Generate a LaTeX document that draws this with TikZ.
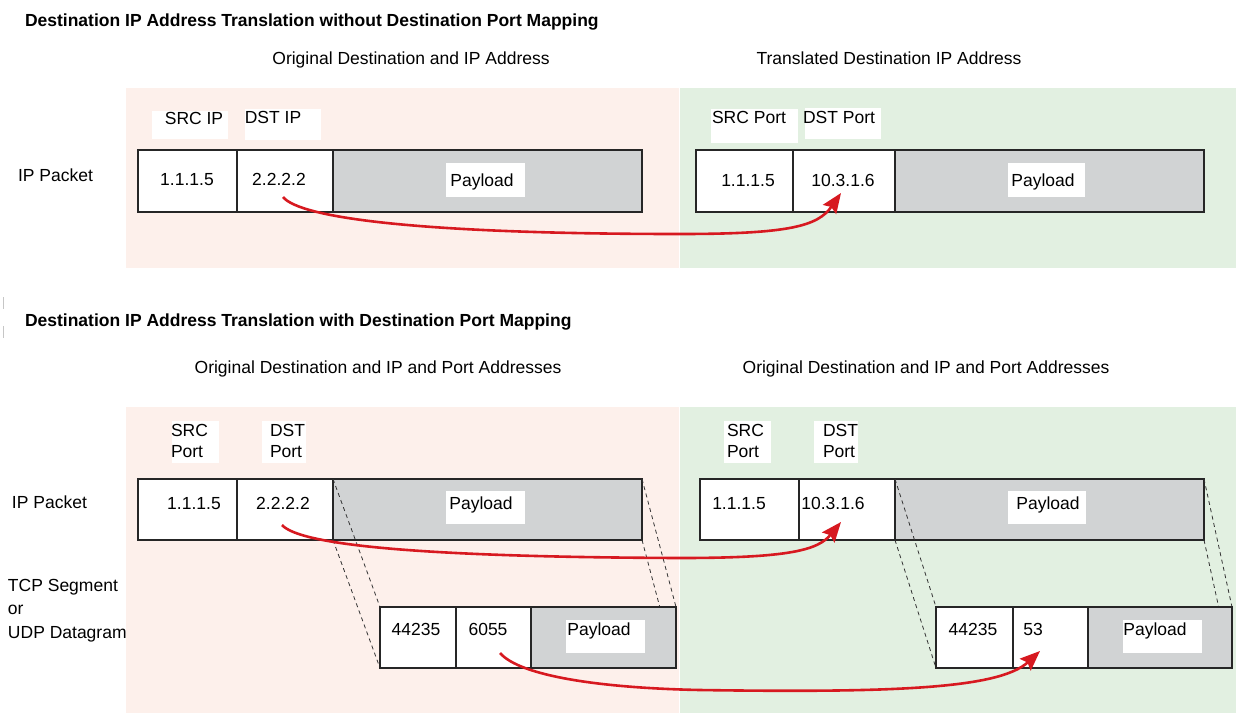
\documentclass[tikz,border=0pt]{standalone}
\usepackage{fontspec}
\setmainfont{Liberation Sans}
\usetikzlibrary{arrows.meta}
\definecolor{pinkbg}{HTML}{FDF0EB}
\definecolor{greenbg}{HTML}{E2F0E1}
\definecolor{paygray}{HTML}{D1D3D4}
\definecolor{arrowred}{HTML}{D71920}
\definecolor{edgecol}{HTML}{262626}
\newcommand\rectnode[6]{\node[#2, minimum width={(#5-#3)*1pt}, minimum height={(#6-#4)*1pt}] (#1) at ({(#3+#5)/2},{(#4+#6)/2}) {};}
\begin{document}
\begin{tikzpicture}[x=1pt,y=-1pt,
 every node/.style={inner sep=0pt, outer sep=0pt, font=\fontsize{17.5}{21}\selectfont},
 bgpink/.style={fill=pinkbg},
 bggreen/.style={fill=greenbg},
 cell/.style={draw=edgecol, fill=white, line width=1.3pt},
 thickcell/.style={draw=black!85, fill=white, line width=2.6pt},
 paycell/.style={draw=edgecol, fill=paygray, line width=1.3pt},
 lbox/.style={fill=white},
 txt/.style={anchor=base, yshift=-6.3pt},
 wtxt/.style={anchor=base west, yshift=-6.3pt},
 title/.style={anchor=base west, yshift=-6.3pt, font=\fontsize{17.5}{21}\selectfont\bfseries},
 guide/.style={draw=black!80, dash pattern=on 4pt off 3.5pt, line width=0.8pt},
 redarrow/.style={draw=arrowred, line width=2.6pt, -{Stealth[length=20pt,width=16pt,inset=3pt]}},
]
\useasboundingbox (0,0) rectangle (1236,713);
\fill[white] (0,0) rectangle (1236,713);

% ---------------- Part 1 ----------------
\node[title] (title1) at (25,20) {Destination IP Address Translation without Destination Port Mapping};
\node[txt] (hdr1l) at (411,58) {Original Destination and IP Address};
\node[txt] (hdr1r) at (889,58) {Translated Destination IP Address};

\rectnode{bg1l}{bgpink}{126}{88}{679}{268}
\rectnode{bg1r}{bggreen}{680}{88}{1236}{268}

\node[wtxt] (ippk1) at (18,175) {IP Packet};

% labels left
\rectnode{lb1a}{lbox}{152}{111}{228}{139}
\node[txt] (lt1a) at (194,118) {SRC IP};
\rectnode{lb1b}{lbox}{245}{109}{321}{140}
\node[txt] (lt1b) at (273,117) {DST IP};

% packet left
\rectnode{c1a}{cell}{138}{150}{237}{212}
\rectnode{c1p}{paycell}{333}{150}{642}{212}
\rectnode{c1b}{thickcell}{237}{150}{333}{212}
\node[txt] (t1a) at (187,179) {1.1.1.5};
\node[txt] (t1b) at (279,179) {2.2.2.2};
\rectnode{pl1}{lbox}{446}{163}{525}{197}
\node[txt] (tp1) at (482,180) {Payload};

% labels right
\rectnode{lb2a}{lbox}{711}{109}{798}{143}
\node[txt] (lt2a) at (749,117) {SRC Port};
\rectnode{lb2b}{lbox}{805}{108}{881}{139}
\node[txt] (lt2b) at (839,117) {DST Port};

% packet right
\rectnode{c2p}{paycell}{895}{150}{1204}{212}
\rectnode{c2a}{thickcell}{696}{150}{793}{212}
\rectnode{c2b}{thickcell}{793}{150}{895}{212}
\node[txt] (t2a) at (748,180) {1.1.1.5};
\node[txt] (t2b) at (843,180) {10.3.1.6};
\rectnode{pl2}{lbox}{1008}{163}{1085}{197}
\node[txt] (tp2) at (1043,180) {Payload};

% ---------------- Part 2 ----------------
\draw[gray!45, line width=0.8pt] (3,297) -- (3,309);
\draw[gray!45, line width=0.8pt] (3,326) -- (3,338);
\node[title] (title2) at (25,320) {Destination IP Address Translation with Destination Port Mapping};
\node[txt] (hdr2l) at (378,367) {Original Destination and IP and Port Addresses};
\node[txt] (hdr2r) at (926,367) {Original Destination and IP and Port Addresses};

\rectnode{bg2l}{bgpink}{126}{407}{679}{713}
\rectnode{bg2r}{bggreen}{680}{407}{1236}{713}

\node[wtxt] (ippk2) at (12,502) {IP Packet};
\node[anchor=west, align=left, font=\fontsize{17.5}{23.5}\selectfont] (tcpl) at (8,610.5) {TCP Segment\\or\\UDP Datagram};

% labels left
\rectnode{lb3a}{lbox}{172}{421}{219}{463}
\node[anchor=west, align=left] (lt3a) at (171,440.5) {SRC\\Port};
\rectnode{lb3b}{lbox}{262}{421}{306}{463}
\node[anchor=west, align=left] (lt3b) at (270,440.5) {DST\\Port};

% labels right
\rectnode{lb4a}{lbox}{724}{421}{771}{463}
\node[anchor=west, align=left] (lt4a) at (727,440.5) {SRC\\Port};
\rectnode{lb4b}{lbox}{814}{421}{858}{463}
\node[anchor=west, align=left] (lt4b) at (823,440.5) {DST\\Port};

% IP packets
\rectnode{c3a}{cell}{138}{479}{237}{540}
\rectnode{c3b}{cell}{237}{479}{333}{540}
\rectnode{c3p}{paycell}{333}{479}{642}{540}
\rectnode{c4a}{cell}{700}{479}{799}{540}
\rectnode{c4b}{cell}{799}{479}{895}{540}
\rectnode{c4p}{paycell}{895}{479}{1204}{540}

% TCP corner coordinates (boxes drawn after dashed guides)
\coordinate (d3tl) at (380,607);
\coordinate (d3bl) at (380,668);
\coordinate (d3tr) at (676,607);
\coordinate (d3br) at (676,668);
\coordinate (d4tl) at (936,607);
\coordinate (d4bl) at (936,668);
\coordinate (d4tr) at (1232,607);
\coordinate (d4br) at (1232,668);

\draw[guide] (c3p.north west) -- (d3tl);
\draw[guide] (c3p.south west) -- (d3bl);
\draw[guide] (c3p.north east) -- (d3tr);
\draw[guide] (c3p.south east) -- (d3br);
\draw[guide] (c4p.north west) -- (d4tl);
\draw[guide] (c4p.south west) -- (d4bl);
\draw[guide] (c4p.north east) -- (d4tr);
\draw[guide] (c4p.south east) -- (d4br);

\rectnode{s3a}{cell}{380}{607}{456}{668}
\rectnode{s3b}{cell}{456}{607}{531}{668}
\rectnode{s3p}{paycell}{531}{607}{676}{668}
\rectnode{s4a}{cell}{936}{607}{1013}{668}
\rectnode{s4b}{cell}{1013}{607}{1088}{668}
\rectnode{s4p}{paycell}{1088}{607}{1232}{668}

\node[txt] (t3a) at (194,503) {1.1.1.5};
\node[txt] (t3b) at (283,503) {2.2.2.2};
\rectnode{pl3}{lbox}{446}{491}{525}{524}
\node[txt] (tp3) at (481,503) {Payload};
\node[txt] (t4a) at (739,503) {1.1.1.5};
\node[txt] (t4b) at (833,503) {10.3.1.6};
\rectnode{pl4}{lbox}{1008}{491}{1086}{524}
\node[txt] (tp4) at (1048,503) {Payload};

\node[txt] (u3a) at (416,629) {44235};
\node[txt] (u3b) at (488,629) {6055};
\rectnode{pl5}{lbox}{566}{620}{645}{653}
\node[txt] (tp5) at (599,629) {Payload};
\node[txt] (u4a) at (973,629) {44235};
\node[txt] (u4b) at (1033,629) {53};
\rectnode{pl6}{lbox}{1123}{620}{1202}{653}
\node[txt] (tp6) at (1155,629) {Payload};

% ---------------- arrows ----------------
\coordinate (a1s) at (283,197);
\coordinate (a1e) at (841,193);
\draw[redarrow] (a1s) .. controls (300,218) and (420,234) .. (680,234) .. controls (790,234) and (818,226) .. (a1e);
\coordinate (a2s) at (282,525);
\coordinate (a2e) at (841,522);
\draw[redarrow] (a2s) .. controls (300,545) and (420,557) .. (680,558) .. controls (790,558) and (818,550) .. (a2e);
\coordinate (a3s) at (500,653);
\coordinate (a3e) at (1040,651);
\draw[redarrow] (a3s) .. controls (520,676) and (600,688) .. (700,690) .. controls (900,693) and (1000,688) .. (a3e);
\end{tikzpicture}
\end{document}
